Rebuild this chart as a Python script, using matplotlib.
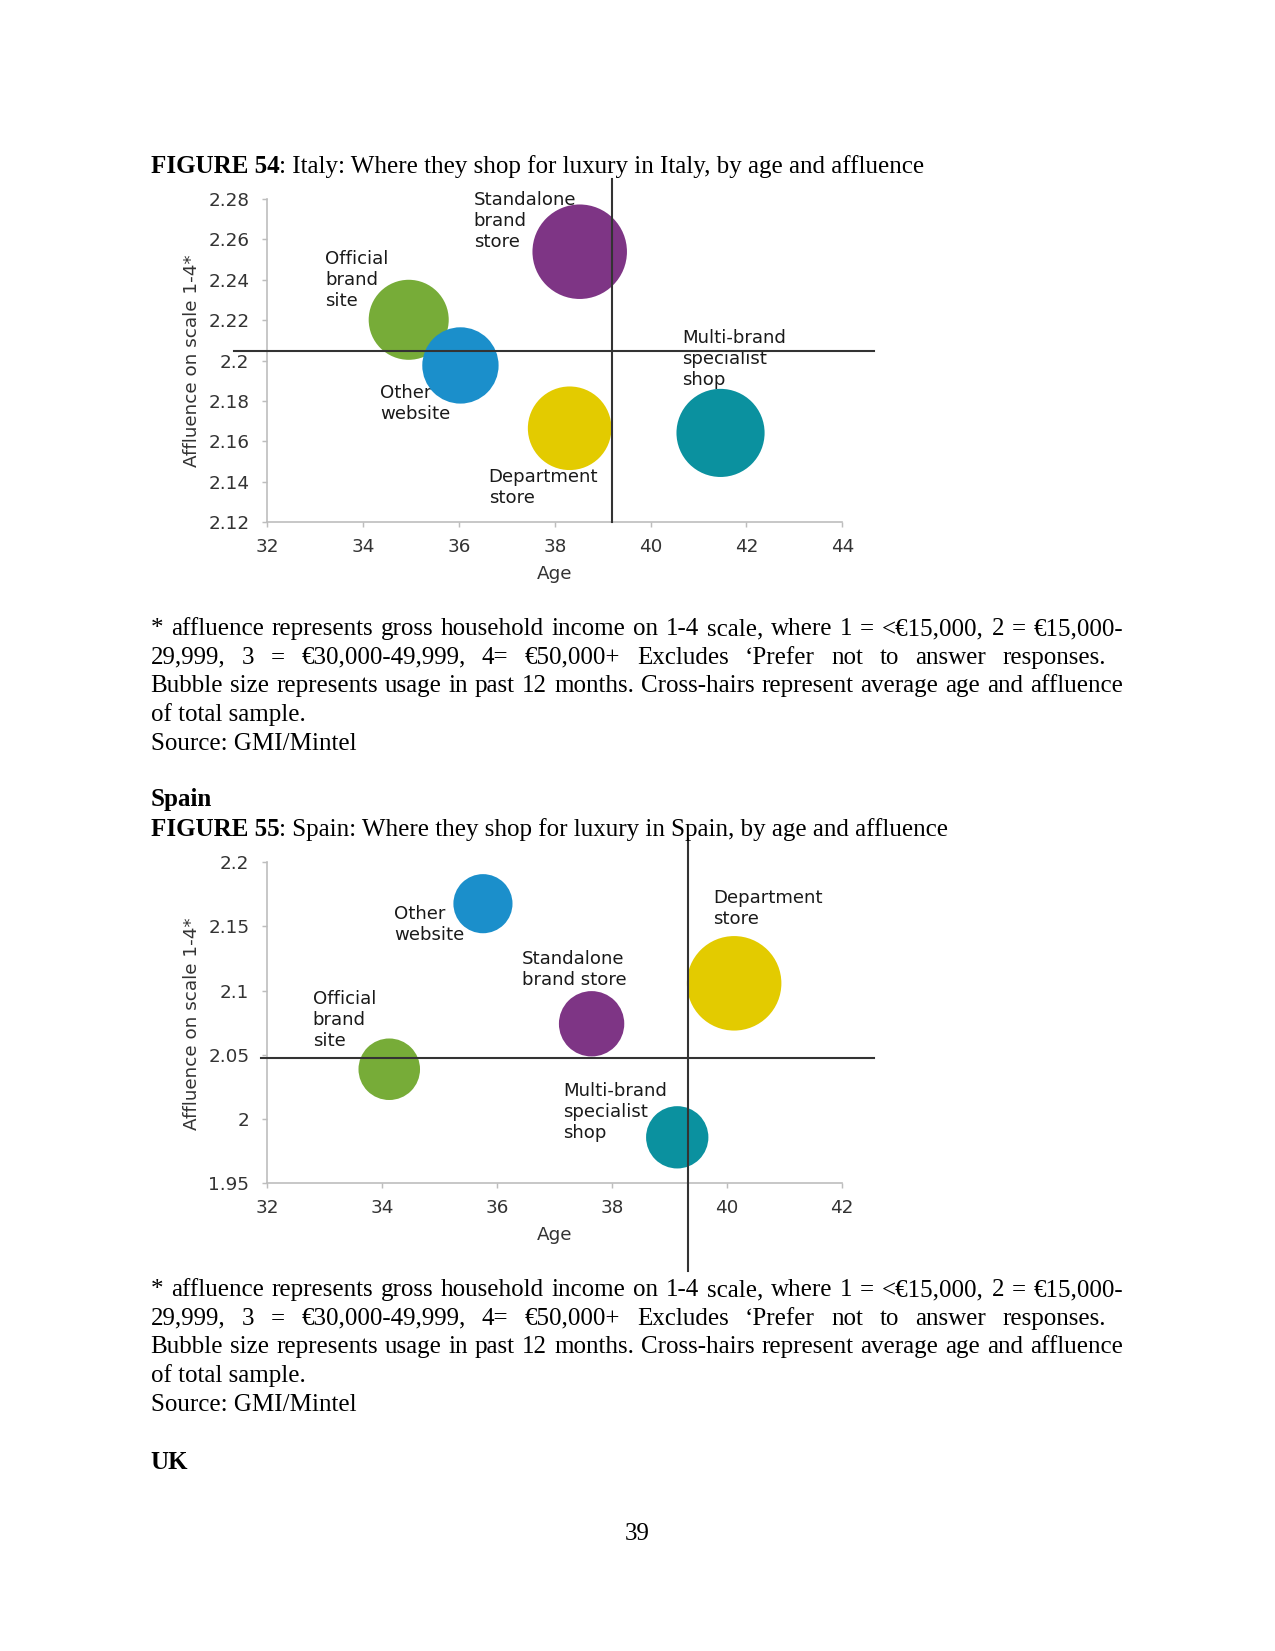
import matplotlib
matplotlib.use("Agg")
import matplotlib.pyplot as plt
import matplotlib.transforms as mtransforms
import numpy as np

W, H, DPI = 1275, 1651, 150

# ---------------- data ----------------
categories = ["Standalone brand store", "Official brand site", "Other website",
              "Department store", "Multi-brand specialist shop"]
bubble_colors = ["#7E3585", "#77AC38", "#1B8FCB", "#E3CB00", "#0B919F"]

italy_age = [38.52, 34.95, 36.03, 38.31, 41.46]
italy_affluence = [2.2539, 2.2202, 2.1976, 2.1665, 2.1642]
italy_usage = [46, 33, 30, 36, 40]
italy_avg_age = 39.20
italy_avg_affluence = 2.2048
italy_labels = ["Standalone\nbrand\nstore", "Official\nbrand\nsite", "Other\nwebsite",
                "Department\nstore", "Multi-brand\nspecialist\nshop"]
italy_xticks = [32, 34, 36, 38, 40, 42, 44]
italy_yticks = [2.12, 2.14, 2.16, 2.18, 2.2, 2.22, 2.24, 2.26, 2.28]

spain_age = [37.64, 34.12, 35.75, 40.12, 39.13]
spain_affluence = [2.0742, 2.0388, 2.1677, 2.1057, 1.9858]
spain_usage = [22, 19.5, 18, 46, 20]
spain_avg_age = 39.32
spain_avg_affluence = 2.0473
spain_labels = ["Standalone\nbrand store", "Official\nbrand\nsite", "Other\nwebsite",
                "Department\nstore", "Multi-brand\nspecialist\nshop"]
spain_xticks = [32, 34, 36, 38, 40, 42]
spain_yticks = [1.95, 2.0, 2.05, 2.1, 2.15, 2.2]

# label anchor positions (layout, data coords: left x, vertical centre)
italy_label_pos = [(36.31, 2.2693), (33.21, 2.2401), (34.35, 2.1787),
                   (36.62, 2.1372), (40.66, 2.2008)]
spain_label_pos = [(36.43, 2.1168), (32.79, 2.0770), (34.20, 2.1516),
                   (39.75, 2.1643), (37.15, 2.0057)]

footnote_lines = [
    "* affluence represents gross household income on 1-4 scale, where 1 = <€15,000, 2 = €15,000-",
    "29,999, 3 = €30,000-49,999, 4= €50,000+ Excludes ‘Prefer not to answer responses.",
    "Bubble size represents usage in past 12 months. Cross-hairs represent average age and affluence",
    "of total sample.",
    "Source: GMI/Mintel",
]

# ---------------- layout helpers ----------------
fig = plt.figure(figsize=(W / DPI, H / DPI), dpi=DPI)
fig.patch.set_facecolor("white")
renderer = fig.canvas.get_renderer()
SERIF = "Liberation Serif"
SANS = "DejaVu Sans"


def fx(x):
    return x / W


def fy(y):
    return 1 - y / H


def text_width(s, **kw):
    t = fig.text(0, 0, s, **kw)
    w = t.get_window_extent(renderer).width
    t.remove()
    return w


def put_text(x, y, s, **kw):
    return fig.text(fx(x), fy(y), s, va="baseline", ha="left", **kw)


def justified(line, x0, x1, y, size=12):
    words = line.split()
    widths = [text_width(w, fontsize=size, family=SERIF) for w in words]
    gap = (x1 - x0 - sum(widths)) / (len(words) - 1)
    x = x0
    for w, wd in zip(words, widths):
        put_text(x, y, w, fontsize=size, family=SERIF)
        x += wd + gap


def paragraph(y0):
    pitch = 28.7
    ends = [1123, 1106, 1123]
    for i, line in enumerate(footnote_lines):
        y = y0 + i * pitch
        if i < 3:
            justified(line, 150.6, ends[i], y)
        else:
            put_text(150.6, y, line, fontsize=12, family=SERIF)


def figure_title(y, bold, rest):
    put_text(150.6, y, bold, fontsize=12, family=SERIF, fontweight="bold")
    wb = text_width(bold, fontsize=12, family=SERIF, fontweight="bold")
    put_text(150.6 + wb, y, rest, fontsize=12, family=SERIF)


def bubble_chart(rect_px, ages, affl, usage, labels, label_pos, avg_age, avg_aff,
                 xticks, yticks, vline_ext, hline_ext, ylabel_y):
    left, top, right, bottom = rect_px
    ax = fig.add_axes([fx(left), fy(bottom), fx(right - left), (bottom - top) / H])
    ax.set_xlim(xticks[0], xticks[-1])
    ax.set_ylim(yticks[0], yticks[-1])
    ax.set_facecolor("none")
    for s in ["top", "right"]:
        ax.spines[s].set_visible(False)
    for s in ["left", "bottom"]:
        ax.spines[s].set_color("#BDBDBD")
        ax.spines[s].set_linewidth(0.8)
    ax.set_xticks(xticks)
    ax.set_xticklabels([f"{v:g}" for v in xticks])
    ax.set_yticks(yticks)
    ax.set_yticklabels([f"{v:g}" for v in yticks])
    ax.tick_params(axis="both", direction="out", length=2.6, width=0.7,
                   color="#BDBDBD", labelsize=8.8, labelcolor="#333333")
    ax.tick_params(axis="y", pad=6)
    ax.tick_params(axis="x", pad=5)
    for lab in ax.get_xticklabels() + ax.get_yticklabels():
        lab.set_family(SANS)

    umax = max(usage)
    max_diam_pt = 94.5 * 72 / DPI
    sizes = [(max_diam_pt ** 2) * u / umax for u in usage]
    ax.scatter(ages, affl, s=sizes, c=bubble_colors, edgecolors="none",
               zorder=2, clip_on=False)

    for lab, (lx, ly) in zip(labels, label_pos):
        ax.text(lx, ly, lab, ha="left", va="center", fontsize=8.7, family=SANS,
                color="#1A1A1A", linespacing=1.22, zorder=1)

    tx = mtransforms.blended_transform_factory(ax.transData, ax.transAxes)
    ty = mtransforms.blended_transform_factory(ax.transAxes, ax.transData)
    ax.plot([avg_age, avg_age], vline_ext, transform=tx, color="#333333",
            lw=1.0, zorder=3, clip_on=False)
    ax.plot(hline_ext, [avg_aff, avg_aff], transform=ty, color="#333333",
            lw=1.0, zorder=3, clip_on=False)

    ax.text(0.5, -52 / (bottom - top), "Age", transform=ax.transAxes,
            ha="center", va="center", fontsize=8.8, family=SANS, color="#333333")
    ax.text(-75.8 / (right - left), ylabel_y, "Affluence on scale 1-4*",
            transform=ax.transAxes, rotation=90, ha="center", va="center",
            fontsize=8.8, family=SANS, color="#333333")
    return ax


# ---------------- page ----------------
figure_title(173, "FIGURE 54", ": Italy: Where they shop for luxury in Italy, by age and affluence")

bubble_chart((267.4, 199.0, 842.2, 522.2), italy_age, italy_affluence, italy_usage,
             italy_labels, italy_label_pos, italy_avg_age, italy_avg_affluence,
             italy_xticks, italy_yticks, (0.0, 1.062), (-0.058, 1.055), 0.5)

paragraph(635)

put_text(150.6, 806, "Spain", fontsize=12, family=SERIF, fontweight="bold")
figure_title(836, "FIGURE 55", ": Spain: Where they shop for luxury in Spain, by age and affluence")

bubble_chart((267.4, 862.2, 842.2, 1183.3), spain_age, spain_affluence, spain_usage,
             spain_labels, spain_label_pos, spain_avg_age, spain_avg_affluence,
             spain_xticks, spain_yticks, (-0.272, 1.072), (-0.011, 1.055), 0.496)

paragraph(1296)

put_text(150.6, 1469, "UK", fontsize=12, family=SERIF, fontweight="bold")
fig.text(fx(637), fy(1540), "39", ha="center", va="baseline", fontsize=12, family=SERIF)

fig.savefig("out.png", dpi=DPI, facecolor="white")
